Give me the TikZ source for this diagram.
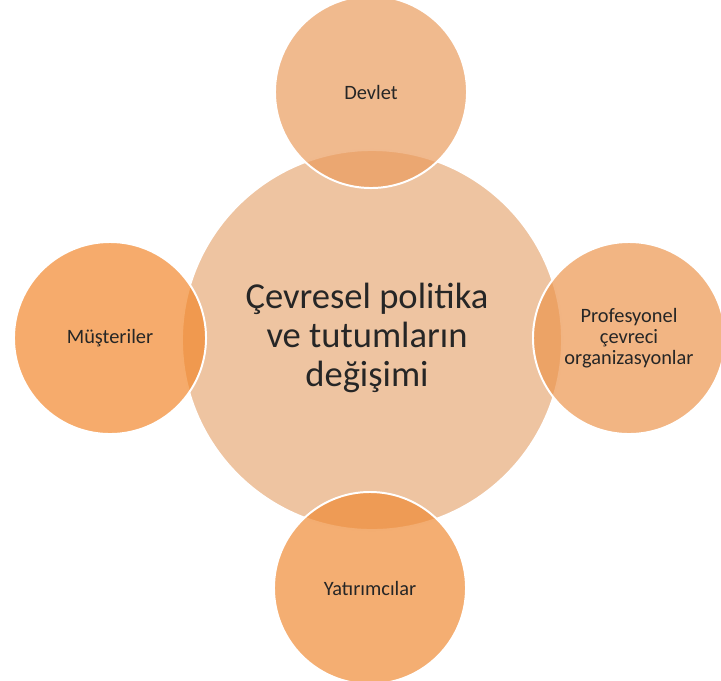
\documentclass[tikz,border=0pt]{standalone}
\usepackage{xcolor}
\usepackage{fontspec}
\setmainfont{Carlito}
\usepackage{tikz}

\definecolor{hubfill}{RGB}{238,196,161}
\definecolor{devletfill}{RGB}{234,156,94}
\definecolor{musterifill}{RGB}{242,136,45}
\definecolor{orgfill}{RGB}{236,149,78}
\definecolor{yatirimfill}{RGB}{239,139,54}

\begin{document}
\begin{tikzpicture}[
      x=0.025cm, y=-0.025cm,
      hub/.style={circle, draw=white, line width=1.4pt, fill=hubfill, minimum size=9.5cm, inner sep=0pt, align=center, font=\fontsize{26}{28}\selectfont},
      actor/.style={circle, draw=white, line width=1.4pt, fill opacity=0.7, text opacity=1, minimum size=4.8cm, inner sep=0pt, align=center, font=\fontsize{14.5}{15}\selectfont},
      every node/.style={text=black!85}
    ]
    \useasboundingbox (0,0) rectangle (721,680);

    % Nodes
    \node[hub] (policy) at (372,340) {};
    \node[actor, fill=devletfill] (devlet) at (371,92) {Devlet};
    \node[actor, fill=musterifill] (musteri) at (110,338) {Müşteriler};
    \node[actor, fill=orgfill] (orgs) at (629,338) {Profesyonel\\çevreci\\organizasyonlar};
    \node[actor, fill=yatirimfill] (yatirim) at (370,588) {Yatırımcılar};

    % Label of the hub
    \node[font=\fontsize{26}{28}\selectfont, align=center] (policytext) at (367,338) {Çevresel politika\\ve tutumların\\değişimi};

    \end{tikzpicture}
\end{document}
